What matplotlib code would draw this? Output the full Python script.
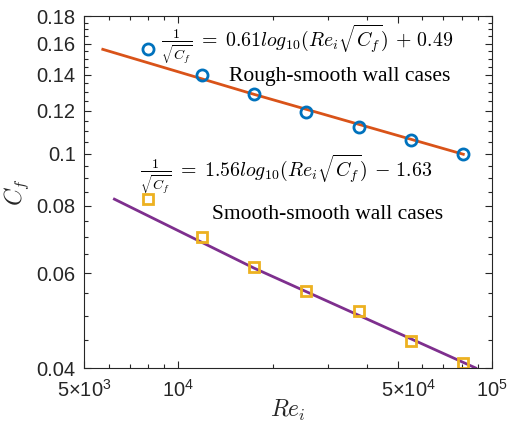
import numpy as np
import matplotlib
matplotlib.use("Agg")
import matplotlib.pyplot as plt
from matplotlib.ticker import FixedLocator, NullFormatter
from matplotlib.transforms import ScaledTranslation

plt.rcParams['font.family'] = ['Liberation Sans', 'DejaVu Sans']
plt.rcParams['mathtext.fontset'] = 'custom'
plt.rcParams['mathtext.rm'] = 'Liberation Sans'
plt.rcParams['mathtext.it'] = 'Liberation Sans:italic'

# rough-smooth wall cases (circles)
re_rough = [8020, 11870, 17420, 25470, 37650, 55300, 81000]
cf_rough = [0.1561, 0.1400, 0.1288, 0.1194, 0.1119, 0.1059, 0.0997]
# smooth-smooth wall cases (squares)
re_smooth = [8020, 11870, 17420, 25470, 37650, 55300, 81000]
cf_smooth = [0.0823, 0.0701, 0.0615, 0.0556, 0.0510, 0.0448, 0.0408]

# fitted lines
re_fit_rough = [5740, 17420, 81000]
cf_fit_rough = [0.1561, 0.1288, 0.0997]
re_fit_smooth = [6250, 17420, 88700]
cf_fit_smooth = [0.0823, 0.0613, 0.0400]

y_ticks = [0.04, 0.06, 0.08, 0.1, 0.12, 0.14, 0.16, 0.18]
y_labels = ['0.04', '0.06', '0.08', '0.1', '0.12', '0.14', '0.16', '0.18']
x_ticks = [5e3, 1e4, 5e4, 1e5]
x_labels = [r'$5{\times}10^3$', r'$10^4$', r'$5{\times}10^4$', r'$10^5$']

blue = '#0072BD'
orange = '#D95319'
yellow = '#EDB120'
purple = '#7E2F8E'
dark = '#262626'

fig = plt.figure(figsize=(5.09, 4.25), dpi=100)
ax = fig.add_axes([84/509, 1 - 368/425, 408/509, 352/425])

ax.plot(re_fit_rough, cf_fit_rough, color=orange, lw=2)
ax.plot(re_fit_smooth, cf_fit_smooth, color=purple, lw=2)
ax.plot(re_rough, cf_rough, 'o', ms=8, mfc='none', mec=blue, mew=2)
ax.plot(re_smooth, cf_smooth, 's', ms=6.5, mfc='none', mec=yellow, mew=2)

ax.set_xscale('log')
ax.set_yscale('log')
ax.set_xlim(5e3, 1e5)
ax.set_ylim(0.04, 0.18)

ax.yaxis.set_major_locator(FixedLocator(y_ticks))
ax.set_yticklabels(y_labels)
ax.yaxis.set_minor_locator(FixedLocator(np.arange(0.045, 0.18, 0.005)))
ax.yaxis.set_minor_formatter(NullFormatter())
ax.xaxis.set_major_locator(FixedLocator(x_ticks))
ax.set_xticklabels(x_labels)
ax.xaxis.set_minor_locator(FixedLocator([6e3, 7e3, 8e3, 9e3] + [k * 1e4 for k in range(2, 10)]))
ax.xaxis.set_minor_formatter(NullFormatter())

ax.tick_params(which='both', direction='in', top=True, right=True, colors=dark,
               labelsize=14.5, width=0.8)
ax.tick_params(which='major', length=5)
ax.tick_params(which='minor', length=3)
ax.tick_params(axis='y', which='major', pad=6)
ax.tick_params(axis='x', which='major', pad=8)
for s in ax.spines.values():
    s.set_color(dark)
    s.set_linewidth(0.8)

# the 5x10^4 label sits a little right of its tick in the original
lab = ax.get_xticklabels()[2]
lab.set_transform(lab.get_transform() + ScaledTranslation(0.11, 0, fig.dpi_scale_trans))

ax.set_xlabel(r'$Re_i$', fontsize=17, math_fontfamily='cm', color=dark, labelpad=-2)
ax.set_ylabel(r'$C_f$', fontsize=17, math_fontfamily='cm', color=dark, labelpad=4)

ax.text(0.189, 0.92, r'$\frac{1}{\sqrt{C_f}}\;=\;0.61log_{10}(Re_i\sqrt{C_f})\,+\,0.49$',
        transform=ax.transAxes, fontsize=14.3, math_fontfamily='cm', ha='left', va='center')
ax.text(0.355, 0.828, 'Rough-smooth wall cases', transform=ax.transAxes,
        fontsize=15.5, family='Liberation Serif', ha='left', va='center')
ax.text(0.137, 0.55, r'$\frac{1}{\sqrt{C_f}}\;=\;1.56log_{10}(Re_i\sqrt{C_f})\,-\,1.63$',
        transform=ax.transAxes, fontsize=14.3, math_fontfamily='cm', ha='left', va='center')
ax.text(0.314, 0.435, 'Smooth-smooth wall cases', transform=ax.transAxes,
        fontsize=15.5, family='Liberation Serif', ha='left', va='center')

fig.savefig('out.png', dpi=100)
